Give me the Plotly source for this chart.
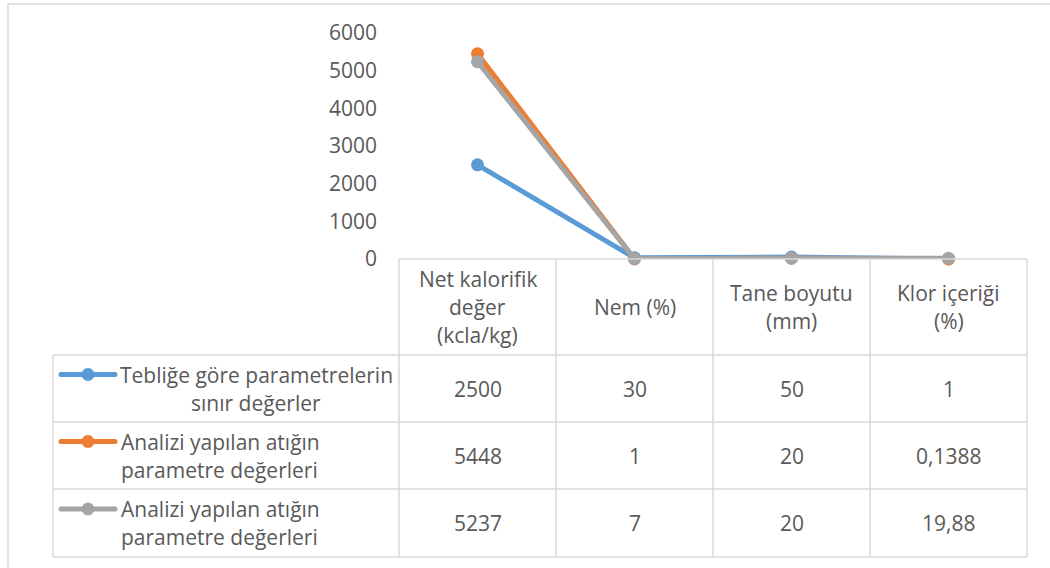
import plotly.graph_objects as go

# --- data -------------------------------------------------------------
categories = ["Net kalorifik değer (kcla/kg)", "Nem (%)", "Tane boyutu (mm)", "Klor içeriği (%)"]
category_lines = [["Net kalorifik", "değer", "(kcla/kg)"], ["Nem (%)"], ["Tane boyutu", "(mm)"], ["Klor içeriği", "(%)"]]

series_names = [
    "Tebliğe göre parametrelerin sınır değerler",
    "Analizi yapılan atığın parametre değerleri",
    "Analizi yapılan atığın parametre değerleri",
]
series_name_lines = [
    ["Tebliğe göre parametrelerin", "sınır değerler"],
    ["Analizi yapılan atığın", "parametre değerleri"],
    ["Analizi yapılan atığın", "parametre değerleri"],
]
limit_values = [2500, 30, 50, 1]
waste_a_values = [5448, 1, 20, 0.1388]
waste_b_values = [5237, 7, 20, 19.88]
table_labels = [["2500", "30", "50", "1"], ["5448", "1", "20", "0,1388"], ["5237", "7", "20", "19,88"]]

y_ticks = [0, 1000, 2000, 3000, 4000, 5000, 6000]

# --- styling ----------------------------------------------------------
colors = ["#5B9BD5", "#ED7D31", "#A5A5A5"]
TEXT = "#595959"
GRID = "#D9D9D9"
FONT = "'Open Sans', sans-serif"
FS = 21

W, H = 1050, 568
L, R, T, B = 399, 23, 33, 309
PW, PH = W - L - R, H - T - B


def px_x(x):
    return (x - L) / PW


def px_y(y):
    return 1 - (y - T) / PH


fig = go.Figure()
xs = list(range(len(categories)))
for name, vals, col in zip(series_names, [limit_values, waste_a_values, waste_b_values], colors):
    fig.add_trace(go.Scatter(
        x=xs, y=vals, name=name, mode="lines+markers",
        line=dict(color=col, width=5),
        marker=dict(color=col, size=13),
        cliponaxis=False, showlegend=False,
    ))

shapes = []
annotations = []


def hline(x0, x1, y, color=GRID, width=1.5):
    shapes.append(dict(type="line", xref="paper", yref="paper",
                       x0=px_x(x0), x1=px_x(x1), y0=px_y(y), y1=px_y(y),
                       line=dict(color=color, width=width)))


def vline(x, y0, y1, color=GRID, width=1.5):
    shapes.append(dict(type="line", xref="paper", yref="paper",
                       x0=px_x(x), x1=px_x(x), y0=px_y(y0), y1=px_y(y1),
                       line=dict(color=color, width=width)))


# outer chart frame
hline(8, 1060, 4)
vline(8, 4, 580)

# data table grid
TABLE_TOP, HEADER_BOTTOM = 259, 355
row_edges = [355, 422, 489, 557]
LEG_LEFT, TABLE_LEFT, TABLE_RIGHT = 53, 399, 1027
col_w = (TABLE_RIGHT - TABLE_LEFT) / len(categories)

hline(TABLE_LEFT, TABLE_RIGHT, TABLE_TOP)
for y in row_edges:
    hline(LEG_LEFT, TABLE_RIGHT, y)
vline(LEG_LEFT, row_edges[0], row_edges[-1])
for i in range(len(categories) + 1):
    vline(TABLE_LEFT + i * col_w, TABLE_TOP, row_edges[-1])

LINE_GAP = 28

# header cells: category labels centred on the category positions
for i, lines in enumerate(category_lines):
    cy = (TABLE_TOP + HEADER_BOTTOM) / 2
    n = len(lines)
    for k, txt in enumerate(lines):
        y = cy + (k - (n - 1) / 2) * LINE_GAP
        annotations.append(dict(x=xs[i], xref="x", y=px_y(y), yref="paper",
                                text=txt, showarrow=False, xanchor="center", yanchor="middle",
                                font=dict(family=FONT, size=FS, color=TEXT)))

# value cells
for r, labels in enumerate(table_labels):
    cy = (row_edges[r] + row_edges[r + 1]) / 2
    for i, txt in enumerate(labels):
        annotations.append(dict(x=xs[i], xref="x", y=px_y(cy), yref="paper",
                                text=txt, showarrow=False, xanchor="center", yanchor="middle",
                                font=dict(family=FONT, size=FS, color=TEXT)))

# legend keys and series names in the row headers
for r, (lines, col) in enumerate(zip(series_name_lines, colors)):
    cy = (row_edges[r] + row_edges[r + 1]) / 2
    y1 = cy - LINE_GAP / 2
    # key: short thick line with a marker
    shapes.append(dict(type="line", xref="paper", yref="paper",
                       x0=px_x(61), x1=px_x(115), y0=px_y(y1), y1=px_y(y1),
                       line=dict(color=col, width=5)))
    for end in (61, 115):
        shapes.append(dict(type="circle", xref="paper", yref="paper",
                           xsizemode="pixel", ysizemode="pixel",
                           xanchor=px_x(end), yanchor=px_y(y1),
                           x0=-2.5, x1=2.5, y0=-2.5, y1=2.5,
                           fillcolor=col, line=dict(color=col, width=0)))
    shapes.append(dict(type="circle", xref="paper", yref="paper",
                       xsizemode="pixel", ysizemode="pixel",
                       xanchor=px_x(88), yanchor=px_y(y1),
                       x0=-6.5, x1=6.5, y0=-6.5, y1=6.5,
                       fillcolor=col, line=dict(color=col, width=0)))
    if r == 0:
        centre = 256
        for k, txt in enumerate(lines):
            annotations.append(dict(x=px_x(centre), xref="paper", y=px_y(y1 + k * LINE_GAP), yref="paper",
                                    text=txt, showarrow=False, xanchor="center", yanchor="middle",
                                    font=dict(family=FONT, size=FS, color=TEXT)))
    else:
        for k, txt in enumerate(lines):
            annotations.append(dict(x=px_x(119), xref="paper", y=px_y(y1 + k * LINE_GAP), yref="paper",
                                    text=txt, showarrow=False, xanchor="left", yanchor="middle",
                                    font=dict(family=FONT, size=FS, color=TEXT)))

fig.update_layout(
    width=W, height=H,
    margin=dict(l=L, r=R, t=T, b=B, pad=0),
    paper_bgcolor="white", plot_bgcolor="white",
    showlegend=False,
    shapes=shapes, annotations=annotations,
    xaxis=dict(range=[-0.5, len(categories) - 0.5], showticklabels=False, showgrid=False,
               zeroline=False, showline=False, ticks="", fixedrange=True),
    yaxis=dict(range=[0, 6000], tickvals=y_ticks, showgrid=False, zeroline=False, showline=False,
               ticks="", ticklabelstandoff=21,
               tickfont=dict(family=FONT, size=FS, color=TEXT), fixedrange=True),
)

fig.write_html("out.html")
